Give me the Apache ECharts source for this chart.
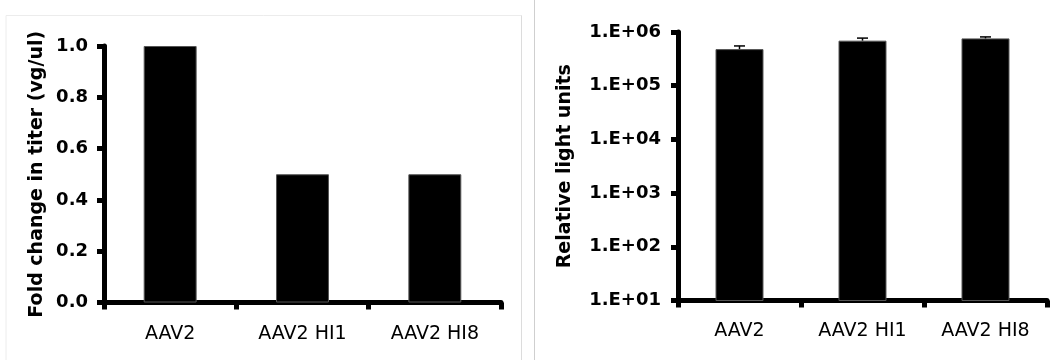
<!DOCTYPE html>
<html>
<head>
<meta charset="utf-8">
<style>
  html, body { margin: 0; padding: 0; background: #ffffff; }
  #chart { width: 1050px; height: 360px; }
</style>
<script src="https://cdn.jsdelivr.net/npm/echarts@6/dist/echarts.min.js"></script>
</head>
<body>
<div id="chart"></div>
<script>
// ---- data ----
const categories = ['AAV2', 'AAV2 HI1', 'AAV2 HI8'];
const foldChange = [1.0, 0.5, 0.5];
const titerTicks = [0, 0.2, 0.4, 0.6, 0.8, 1.0];
const rlu = [480000, 690000, 760000];
const rluErrTop = [550000, 770000, 810000];
const rluTickLabels = ['1.E+01', '1.E+02', '1.E+03', '1.E+04', '1.E+05', '1.E+06'];

const FONT = 'DejaVu Sans';

function axisLineCommon() {
  return { show: true, lineStyle: { color: '#000', width: 5 } };
}

const chart = echarts.init(document.getElementById('chart'), null, { renderer: 'canvas' });

const option = {
  backgroundColor: '#ffffff',
  animation: false,
  graphic: [
    { type: 'polyline', silent: true, shape: { points: [[6, 360], [6, 15.5], [521.5, 15.5], [521.5, 360]] },
      style: { stroke: '#ececec', lineWidth: 1, fill: null } },
    { type: 'line', silent: true, shape: { x1: 521.5, y1: 15.5, x2: 521.5, y2: 360 },
      style: { stroke: '#dcdcdc', lineWidth: 1 } },
    { type: 'line', silent: true, shape: { x1: 534.5, y1: 0, x2: 534.5, y2: 360 },
      style: { stroke: '#cfcfcf', lineWidth: 1 } }
  ],
  grid: [
    { left: 104, right: 549, top: 46, bottom: 57.5, containLabel: false },
    { left: 678, right: 3, top: 32, bottom: 59.5, containLabel: false }
  ],
  xAxis: [
    {
      type: 'category', gridIndex: 0, data: categories, boundaryGap: true,
      axisLine: axisLineCommon(),
      axisTick: { show: true, length: 7, lineStyle: { color: '#000', width: 5 } },
      axisLabel: { color: '#000', fontFamily: FONT, fontSize: 19, margin: 22 },
      splitLine: { show: false }
    },
    {
      type: 'category', gridIndex: 1, data: categories, boundaryGap: true,
      axisLine: axisLineCommon(),
      axisTick: { show: true, length: 7, lineStyle: { color: '#000', width: 5 } },
      axisLabel: { color: '#000', fontFamily: FONT, fontSize: 19, margin: 21 },
      splitLine: { show: false }
    }
  ],
  yAxis: [
    {
      type: 'value', gridIndex: 0, min: 0, max: 1, interval: 0.2,
      name: 'Fold change in titer (vg/ul)', nameLocation: 'middle', nameGap: 57,
      nameTextStyle: { color: '#000', fontFamily: FONT, fontSize: 19, fontWeight: 'bold' },
      axisLine: axisLineCommon(),
      axisTick: { show: true, length: 7, lineStyle: { color: '#000', width: 5 } },
      axisLabel: { color: '#000', fontFamily: FONT, fontSize: 18, fontWeight: 'bold', margin: 16,
        formatter: v => v.toFixed(1) },
      splitLine: { show: false }
    },
    {
      type: 'log', gridIndex: 1, logBase: 10, min: 10, max: 1000000,
      name: 'Relative light units', nameLocation: 'middle', nameGap: 103,
      nameTextStyle: { color: '#000', fontFamily: FONT, fontSize: 19, fontWeight: 'bold' },
      axisLine: axisLineCommon(),
      axisTick: { show: true, length: 7, lineStyle: { color: '#000', width: 5 } },
      axisLabel: { color: '#000', fontFamily: FONT, fontSize: 18, fontWeight: 'bold', margin: 17,
        formatter: v => rluTickLabels[Math.round(Math.log10(v)) - 1] },
      splitLine: { show: false }
    }
  ],
  series: [
    {
      type: 'bar', xAxisIndex: 0, yAxisIndex: 0, data: foldChange, barWidth: '40%',
      itemStyle: { color: '#000', borderColor: '#555', borderWidth: 1 }, z: 1
    },
    {
      type: 'bar', xAxisIndex: 1, yAxisIndex: 1, data: rlu, barWidth: '39%', clip: true,
      itemStyle: { color: '#000', borderColor: '#555', borderWidth: 1 }, z: 1
    },
    {
      type: 'custom', xAxisIndex: 1, yAxisIndex: 1, z: 3,
      data: categories.map((c, i) => [i, rlu[i], rluErrTop[i]]),
      renderItem: function (params, api) {
        const base = api.coord([api.value(0), api.value(1)]);
        const top = api.coord([api.value(0), api.value(2)]);
        const half = 5.5;
        return {
          type: 'group',
          children: [
            { type: 'line', shape: { x1: base[0], y1: base[1], x2: top[0], y2: top[1] },
              style: { stroke: '#000', lineWidth: 1.5 } },
            { type: 'line', shape: { x1: top[0] - half, y1: top[1], x2: top[0] + half, y2: top[1] },
              style: { stroke: '#000', lineWidth: 1.5 } }
          ]
        };
      }
    }
  ]
};

chart.setOption(option);
</script>
</body>
</html>
